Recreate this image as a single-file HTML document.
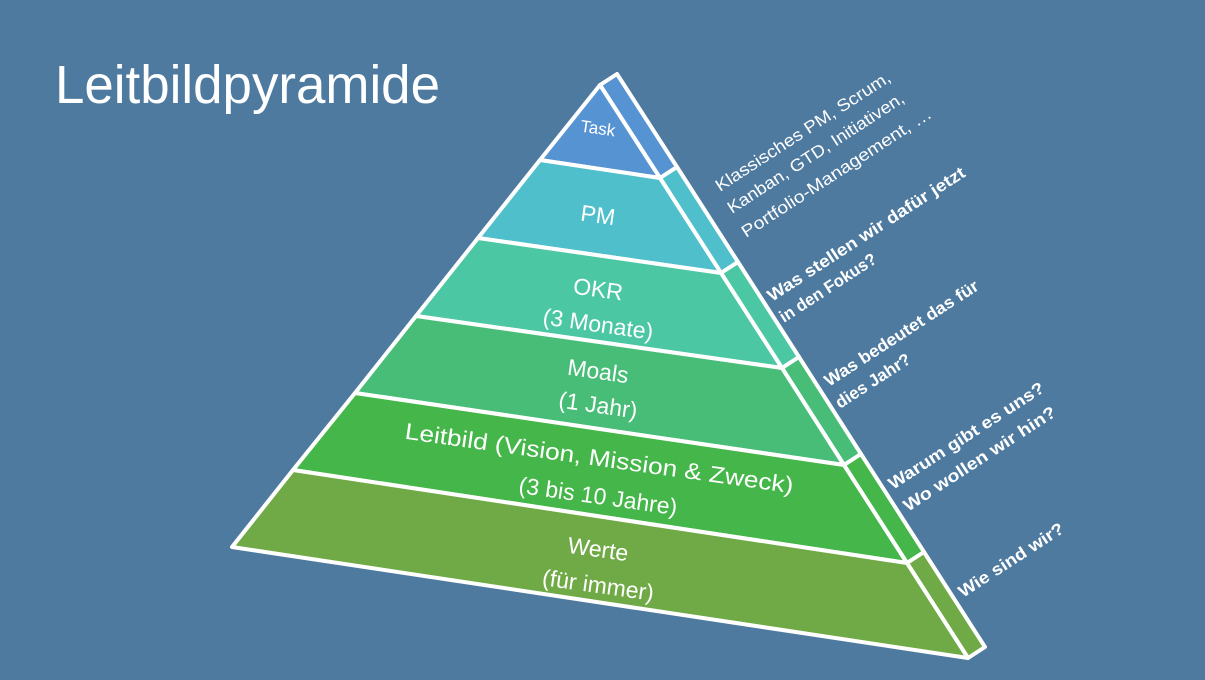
<!DOCTYPE html>
<html><head><meta charset="utf-8"><style>
html,body{margin:0;padding:0;background:#4e7aa0;}
svg{display:block}
text{font-family:"Liberation Sans",sans-serif;fill:#fff;}
</style></head><body>
<svg width="1205" height="680" viewBox="0 0 1205 680" xmlns="http://www.w3.org/2000/svg">
<rect width="1205" height="680" fill="#4e7aa0"/>
<text x="55" y="103" font-size="54" textLength="385" lengthAdjust="spacingAndGlyphs">Leitbildpyramide</text>
<g stroke="#fff" stroke-width="4" stroke-linejoin="round">
<polygon points="600,85 617,74 677,167 660,178" fill="#5693d3"/>
<polygon points="660,178 677,167 738,262 721,273" fill="#4fbfcc"/>
<polygon points="721,273 738,262 799,357 782,368" fill="#4cc7a4"/>
<polygon points="782,368 799,357 861,454 844,465" fill="#48bd78"/>
<polygon points="844,465 861,454 924,552 907,563" fill="#45b649"/>
<polygon points="907,563 924,552 985,647 968,658" fill="#70aa46"/>
<polygon points="600,85 540,160 660,178" fill="#5693d3"/>
<polygon points="540,160 478,238 721,273 660,178" fill="#4fbfcc"/>
<polygon points="478,238 416,316 782,368 721,273" fill="#4cc7a4"/>
<polygon points="416,316 355,393 844,465 782,368" fill="#48bd78"/>
<polygon points="355,393 293,470 907,563 844,465" fill="#45b649"/>
<polygon points="293,470 232,547 968,658 907,563" fill="#70aa46"/>
</g>
<g text-anchor="middle" font-size="23">
<text x="598" y="134" font-size="17" transform="rotate(8 598 128)">Task</text>
<text x="598" y="223" transform="rotate(8 598 215)">PM</text>
<text x="598" y="297" transform="rotate(8 598 290)">OKR</text>
<text x="598" y="332" transform="rotate(8 598 325)">(3 Monate)</text>
<text x="598" y="379" transform="rotate(8 598 372)">Moals</text>
<text x="598" y="413" transform="rotate(8 598 406)">(1 Jahr)</text>
<text x="599" y="466" textLength="392" lengthAdjust="spacingAndGlyphs" transform="rotate(8 599 460)">Leitbild (Vision, Mission &amp; Zweck)</text>
<text x="598" y="504" transform="rotate(8 598 497)">(3 bis 10 Jahre)</text>
<text x="598" y="557" transform="rotate(8 598 550)">Werte</text>
<text x="598" y="593" transform="rotate(8 598 586)">(für immer)</text>
</g>
<g font-size="17">
<text x="720" y="192" textLength="205" lengthAdjust="spacingAndGlyphs" transform="rotate(-33 720 192)">Klassisches PM, Scrum,</text>
<text x="732" y="214" textLength="207" lengthAdjust="spacingAndGlyphs" transform="rotate(-33 732 214)">Kanban, GTD, Initiativen,</text>
<text x="746" y="238" textLength="223" lengthAdjust="spacingAndGlyphs" transform="rotate(-33 746 238)">Portfolio-Management, …</text>
</g>
<g font-size="17" font-weight="bold">
<text x="772" y="302" textLength="232" lengthAdjust="spacingAndGlyphs" transform="rotate(-33 772 302)">Was stellen wir dafür jetzt</text>
<text x="784" y="323" textLength="112" lengthAdjust="spacingAndGlyphs" transform="rotate(-33 784 323)">in den Fokus?</text>
<text x="829" y="387" textLength="180" lengthAdjust="spacingAndGlyphs" transform="rotate(-33 829 387)">Was bedeutet das für</text>
<text x="840" y="409" textLength="86" lengthAdjust="spacingAndGlyphs" transform="rotate(-33 840 409)">dies Jahr?</text>
<text x="893" y="490" textLength="182" lengthAdjust="spacingAndGlyphs" transform="rotate(-33 893 490)">Warum gibt es uns?</text>
<text x="908" y="512" textLength="178" lengthAdjust="spacingAndGlyphs" transform="rotate(-33 908 512)">Wo wollen wir hin?</text>
<text x="963" y="598" textLength="122" lengthAdjust="spacingAndGlyphs" transform="rotate(-33 963 598)">Wie sind wir?</text>
</g>
</svg>
</body></html>
